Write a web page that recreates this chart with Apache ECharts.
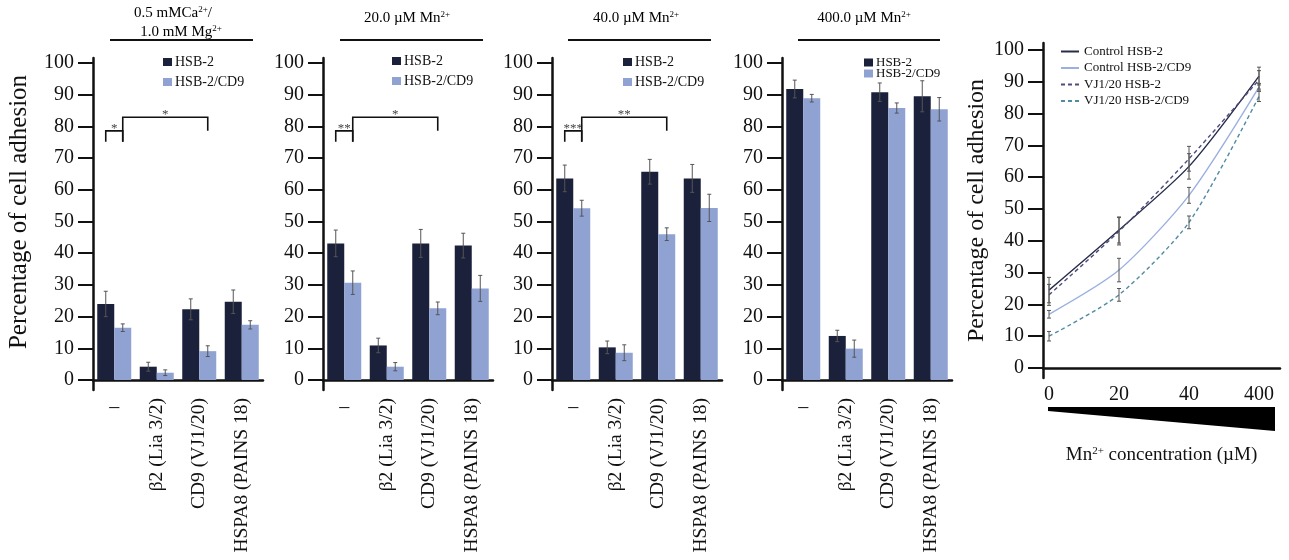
<!DOCTYPE html>
<html><head><meta charset="utf-8">
<script src="https://cdn.jsdelivr.net/npm/echarts@6/dist/echarts.min.js"></script>
<style>html,body{margin:0;padding:0;background:#fff}#c{width:1289px;height:560px}</style>
</head><body><div id="c"></div>
<script>
// ---------- data ----------
const categories = ['–', 'β2 (Lia 3/2)', 'CD9 (VJ1/20)', 'HSPA8 (PAINS 18)'];
const barSeriesNames = ['HSB-2', 'HSB-2/CD9'];
const yTicks = [0, 10, 20, 30, 40, 50, 60, 70, 80, 90, 100];

// 0.5 mM Ca2+ / 1.0 mM Mg2+
const ca_hsb2     = [24.0, 4.2, 22.3, 24.7];
const ca_hsb2_err = [4.0, 1.4, 3.3, 3.7];
const ca_cd9      = [16.5, 2.3, 9.1, 17.4];
const ca_cd9_err  = [1.2, 0.9, 1.7, 1.3];
// 20 µM Mn2+
const mn20_hsb2     = [43.1, 10.9, 43.1, 42.4];
const mn20_hsb2_err = [4.2, 2.3, 4.4, 3.9];
const mn20_cd9      = [30.7, 4.2, 22.6, 28.9];
const mn20_cd9_err  = [3.7, 1.3, 2.0, 4.1];
// 40 µM Mn2+
const mn40_hsb2     = [63.6, 10.3, 65.7, 63.6];
const mn40_hsb2_err = [4.2, 2.0, 3.9, 4.4];
const mn40_cd9      = [54.2, 8.6, 46.0, 54.3];
const mn40_cd9_err  = [2.5, 2.5, 2.0, 4.3];
// 400 µM Mn2+
const mn400_hsb2     = [91.8, 13.9, 90.8, 89.5];
const mn400_hsb2_err = [2.8, 1.8, 2.9, 4.9];
const mn400_cd9      = [88.9, 9.9, 85.8, 85.4];
const mn400_cd9_err  = [1.2, 2.7, 1.6, 3.7];

// significance brackets: [cat1, bar1, cat2, bar2, top, leftFoot, rightFoot]
const ca_brackets   = [[0, 0, 0, 1, 78.6, 75.2, 75.2], [0, 1, 2, 1, 82.9, 75.2, 78.6]];
const ca_stars      = ['*', '*'];
const mn20_brackets = [[0, 0, 0, 1, 78.6, 75.2, 75.2], [0, 1, 2, 1, 82.9, 75.2, 78.6]];
const mn20_stars    = ['**', '*'];
const mn40_brackets = [[0, 0, 0, 1, 78.6, 75.2, 75.2], [0, 1, 2, 1, 82.9, 75.2, 78.6]];
const mn40_stars    = ['***', '**'];

// line chart: Mn2+ concentration series
const mnLabels = ['0', '20', '40', '400'];
const lineNames = ['Control HSB-2', 'Control HSB-2/CD9', 'VJ1/20 HSB-2', 'VJ1/20 HSB-2/CD9'];
const ctrl_hsb2      = [24.5, 43.4, 63.4, 91.8];
const ctrl_hsb2_err  = [4.0, 4.1, 4.0, 2.8];
const ctrl_cd9       = [16.9, 30.8, 54.3, 88.3];
const ctrl_cd9_err   = [1.2, 3.7, 2.5, 1.2];
const vj_hsb2        = [23.0, 43.0, 65.8, 90.6];
const vj_hsb2_err    = [3.3, 4.3, 3.9, 2.9];
const vj_cd9         = [10.0, 23.0, 45.8, 85.4];
const vj_cd9_err     = [1.5, 2.0, 2.0, 1.6];

// ---------- styling ----------
const FONT = 'Liberation Serif';
const INK = '#111111';
const DARK = '#1b203b';
const LIGHT = '#8fa2d2';
const ERR = '#555555';
const lineColors = ['#272c4a', '#9cb0e0', '#4f4c7c', '#4f8ba3'];
const lineTypes = ['solid', 'solid', [4, 3], [4, 3]];

const panels = [
  { left: 93,  hsb2: ca_hsb2, hsb2Err: ca_hsb2_err, cd9: ca_cd9, cd9Err: ca_cd9_err, brackets: ca_brackets, stars: ca_stars, leg: { left: 163, top: 55, gap: 6, fs: 14 } },
  { left: 323, hsb2: mn20_hsb2, hsb2Err: mn20_hsb2_err, cd9: mn20_cd9, cd9Err: mn20_cd9_err, brackets: mn20_brackets, stars: mn20_stars, leg: { left: 392, top: 54, gap: 6, fs: 14 } },
  { left: 552, hsb2: mn40_hsb2, hsb2Err: mn40_hsb2_err, cd9: mn40_cd9, cd9Err: mn40_cd9_err, brackets: mn40_brackets, stars: mn40_stars, leg: { left: 623, top: 55, gap: 6, fs: 14 } },
  { left: 782, hsb2: mn400_hsb2, hsb2Err: mn400_hsb2_err, cd9: mn400_cd9, cd9Err: mn400_cd9_err, brackets: [], stars: [], leg: { left: 864, top: 56, gap: -2, fs: 13 } }
];

function errRender(off) {
  return function (params, api) {
    const x = api.value(0), v = api.value(1), e = api.value(2);
    const band = api.size([1, 0])[0];
    const cx = api.coord([x, v])[0] + off * band;
    const yt = api.coord([x, v + e])[1], yb = api.coord([x, v - e])[1];
    const cap = 2;
    const st = { stroke: ERR, lineWidth: 1 };
    return { type: 'group', children: [
      { type: 'line', shape: { x1: cx, y1: yt, x2: cx, y2: yb }, style: st },
      { type: 'line', shape: { x1: cx - cap, y1: yt, x2: cx + cap, y2: yt }, style: st },
      { type: 'line', shape: { x1: cx - cap, y1: yb, x2: cx + cap, y2: yb }, style: st }
    ] };
  };
}

function bracketRender(brackets, stars) {
  return function (params, api) {
    const b = brackets[params.dataIndex];
    const band = api.size([1, 0])[0];
    const px = (cat, side) => api.coord([cat, 0])[0] + (side === 0 ? -0.2 : 0.2) * band;
    const xl = px(b[0], b[1]), xr = px(b[2], b[3]);
    const yt = api.coord([b[0], b[4]])[1], yl = api.coord([b[0], b[5]])[1], yr = api.coord([b[0], b[6]])[1];
    return { type: 'group', children: [
      { type: 'polyline', shape: { points: [[xl, yl], [xl, yt], [xr, yt], [xr, yr]] }, style: { stroke: INK, lineWidth: 1.6, fill: null } },
      { type: 'text', style: { text: stars[params.dataIndex], x: (xl + xr) / 2, y: yt + 4, align: 'center', verticalAlign: 'bottom', fontSize: 13, fontFamily: FONT, fill: '#444' } }
    ] };
  };
}

const yAxisCommon = (gridIndex, min, max) => ({
  type: 'value', gridIndex, min, max,
  axisLine: { show: true, onZero: false, lineStyle: { color: INK, width: 2.5 } },
  axisTick: { show: true, length: 15, customValues: yTicks, lineStyle: { color: INK, width: 2 } },
  axisLabel: { customValues: yTicks, margin: 19, fontFamily: FONT, fontSize: 20, color: INK },
  splitLine: { show: false }
});

const grid = [], xAxis = [], yAxis = [], series = [], legend = [];
panels.forEach((p, i) => {
  grid.push({ left: p.left, top: 58, width: 170, height: 332, containLabel: false, outerBoundsMode: 'none' });
  xAxis.push({
    type: 'category', gridIndex: i, data: categories, position: 'bottom',
    axisLine: { onZero: true, lineStyle: { color: INK, width: 2.5 } },
    axisTick: { show: false },
    axisLabel: { rotate: 90, margin: 8, interval: 0, fontFamily: FONT, fontSize: 19.5, color: INK,
      formatter: (v, k) => (k === 0 ? '' : v) }
  });
  xAxis.push({
    type: 'category', gridIndex: i, data: categories, position: 'bottom',
    axisLine: { show: false, onZero: true }, axisTick: { show: false },
    axisLabel: { margin: 8, interval: 0, fontFamily: FONT, fontSize: 20, color: INK,
      formatter: (v, k) => (k === 0 ? v : '') }
  });
  const y = yAxisCommon(i, -3.15, 101.58);
  if (i === 0) {
    y.name = 'Percentage of cell adhesion';
    y.nameLocation = 'middle';
    y.nameGap = 61;
    y.nameTextStyle = { fontFamily: FONT, fontSize: 25, color: INK, padding: [0, 0, 0, 24] };
  }
  yAxis.push(y);
  series.push({ type: 'bar', name: barSeriesNames[0], xAxisIndex: 2 * i, yAxisIndex: i, data: p.hsb2,
    barWidth: '40%', barGap: '0%', itemStyle: { color: DARK } });
  series.push({ type: 'bar', name: barSeriesNames[1], xAxisIndex: 2 * i, yAxisIndex: i, data: p.cd9,
    barWidth: '40%', barGap: '0%', itemStyle: { color: LIGHT } });
  series.push({ type: 'custom', xAxisIndex: 2 * i, yAxisIndex: i, z: 5, encode: { x: 0, y: 1 },
    data: p.hsb2.map((v, k) => [k, v, p.hsb2Err[k]]), renderItem: errRender(-0.2) });
  series.push({ type: 'custom', xAxisIndex: 2 * i, yAxisIndex: i, z: 5, encode: { x: 0, y: 1 },
    data: p.cd9.map((v, k) => [k, v, p.cd9Err[k]]), renderItem: errRender(0.2) });
  if (p.brackets.length) {
    series.push({ type: 'custom', xAxisIndex: 2 * i, yAxisIndex: i, z: 6, encode: { x: 0, y: 1 },
      data: p.brackets.map(b => [b[0], b[4]]), renderItem: bracketRender(p.brackets, p.stars) });
  }
  legend.push({ data: barSeriesNames, orient: 'vertical', left: p.leg.left, top: p.leg.top, padding: 0,
    itemGap: p.leg.gap, itemWidth: 9, itemHeight: 8, icon: 'rect',
    textStyle: { fontFamily: FONT, fontSize: p.leg.fs, color: INK, padding: [0, 0, 0, -2] } });
});

// line chart
grid.push({ left: 1043, top: 43, width: 237, height: 335, containLabel: false, outerBoundsMode: 'none' });
xAxis.push({
  type: 'value', gridIndex: 4, min: -0.086, max: 3.3,
  axisLine: { onZero: true, lineStyle: { color: INK, width: 2.5 } },
  axisTick: { show: false },
  axisLabel: { customValues: [0, 1, 2, 3], formatter: v => mnLabels[v], margin: 7, fontFamily: FONT, fontSize: 20, color: INK },
  splitLine: { show: false },
  name: '{n|Mn}{s|2+}{n| concentration (µM)}', nameLocation: 'middle', nameGap: 68,
  nameTextStyle: { rich: { n: { fontFamily: FONT, fontSize: 19, color: INK }, s: { fontFamily: FONT, fontSize: 11, color: INK, verticalAlign: 'top' } } }
});
const yl = yAxisCommon(4, -3.14, 102.2);
yl.name = 'Percentage of cell adhesion';
yl.nameLocation = 'middle';
yl.nameGap = 54;
yl.nameTextStyle = { fontFamily: FONT, fontSize: 24, color: INK };
yAxis.push(yl);

const lineVals = [ctrl_hsb2, ctrl_cd9, vj_hsb2, vj_cd9];
const lineErrs = [ctrl_hsb2_err, ctrl_cd9_err, vj_hsb2_err, vj_cd9_err];
lineVals.forEach((vals, j) => {
  series.push({ type: 'line', name: lineNames[j], xAxisIndex: 8, yAxisIndex: 4, smooth: 0.25, symbol: 'none',
    data: vals.map((v, k) => [k, v]),
    lineStyle: { color: lineColors[j], width: 1.4, type: lineTypes[j] }, itemStyle: { color: lineColors[j] } });
  series.push({ type: 'custom', xAxisIndex: 8, yAxisIndex: 4, z: 5, encode: { x: 0, y: 1 },
    data: vals.map((v, k) => [k, v, lineErrs[j][k]]), renderItem: errRender(0) });
});
legend.push({ data: lineNames, orient: 'vertical', left: 1060, top: 45, padding: 0, itemGap: 3.5,
  itemWidth: 18, itemHeight: 10, itemStyle: { opacity: 0 },
  textStyle: { fontFamily: FONT, fontSize: 13, color: INK } });

// titles above the bar panels
const rich = { n: { fontFamily: FONT, fontSize: 15, color: INK }, s: { fontFamily: FONT, fontSize: 9, color: INK, verticalAlign: 'top' } };
const titleText = (text, x, y) => ({ type: 'text', style: { text, x, y, align: 'center', verticalAlign: 'middle', rich } });
const rule = (x1, x2) => ({ type: 'line', shape: { x1, y1: 40, x2, y2: 40 }, style: { stroke: INK, lineWidth: 2 } });
const graphic = [
  titleText('{n|0.5 mMCa}{s|2+}{n|/}', 173, 13),
  titleText('{n|1.0 mM Mg}{s|2+}', 181, 32),
  rule(110, 253),
  titleText('{n|20.0 µM Mn}{s|2+}', 407, 18), rule(340, 483),
  titleText('{n|40.0 µM Mn}{s|2+}', 636, 18), rule(568, 711),
  titleText('{n|400.0 µM Mn}{s|2+}', 864, 18), rule(798, 940),
  { type: 'polygon', shape: { points: [[1048, 407], [1275, 407], [1275, 431], [1048, 411]] }, style: { fill: '#000' } }
];

const chart = echarts.init(document.getElementById('c'));
chart.setOption({ animation: false, backgroundColor: '#fff', grid, xAxis, yAxis, series, legend, graphic });
</script>
</body></html>
